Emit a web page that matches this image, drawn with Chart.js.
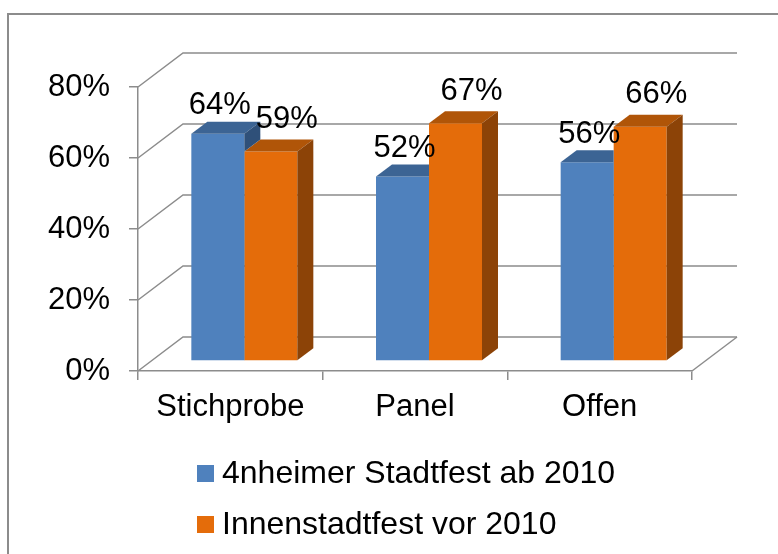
<!DOCTYPE html>
<html>
<head>
<meta charset="utf-8">
<script src="https://cdn.jsdelivr.net/npm/chart.js@4.4.1/dist/chart.umd.min.js"></script>
<style>
  html, body { margin: 0; padding: 0; background: #ffffff; }
  #wrap { width: 778px; height: 554px; position: relative; }
</style>
</head>
<body>
<div id="wrap"><canvas id="c" width="778" height="554"></canvas></div>
<script>
// ---- data ----
const categories = ["Stichprobe", "Panel", "Offen"];
const seriesNames = ["4nheimer Stadtfest ab 2010", "Innenstadtfest vor 2010"];
const series2010plus = [0.64, 0.52, 0.56];
const seriesBefore2010 = [0.59, 0.67, 0.66];
const yTicks = [0, 0.2, 0.4, 0.6, 0.8];

// ---- styles ----
const FONT = '"Liberation Sans", Arial, sans-serif';
const FS = 31;
const LEGEND_FS = 32;
const FRONT = ["#4F81BD", "#E46C0A"];
const TOP = ["#3C6494", "#B05508"];
const SIDE = ["#2F5079", "#8C4307"];
const LINE = "#8C8C8C";
const BAR_OFF = { x: 14, y: -10 };   // bar front plane relative to axis plane
const BAR_DEPTH = { x: 16, y: -12 }; // depth of a bar
const WALL = { x: 45, y: -34 };      // back wall relative to axis plane
const LABEL_OFF = [{ x: 2, y: -28 }, { x: 16, y: -32 }];

function silhouette(ctx, b) {
  const l = b.x - b.width / 2, r = b.x + b.width / 2;
  ctx.moveTo(l, b.base);
  ctx.lineTo(l, b.y);
  ctx.lineTo(l + BAR_DEPTH.x, b.y + BAR_DEPTH.y);
  ctx.lineTo(r + BAR_DEPTH.x, b.y + BAR_DEPTH.y);
  ctx.lineTo(r + BAR_DEPTH.x, b.base + BAR_DEPTH.y);
  ctx.lineTo(r, b.base);
  ctx.closePath();
}

const threeD = {
  id: 'threeD',
  beforeDatasetsDraw(chart) {
    const ctx = chart.ctx, a = chart.chartArea, ys = chart.scales.y;
    ctx.save();
    ctx.strokeStyle = LINE;
    ctx.lineWidth = 1.5;
    yTicks.forEach(v => {
      const py = ys.getPixelForValue(v);
      ctx.beginPath();
      ctx.moveTo(a.left, py);
      ctx.lineTo(a.left + WALL.x, py + WALL.y);
      ctx.lineTo(a.right + WALL.x, py + WALL.y);
      ctx.stroke();
    });
    ctx.beginPath();
    ctx.moveTo(a.right, a.bottom);
    ctx.lineTo(a.right + WALL.x, a.bottom + WALL.y);
    ctx.stroke();
    ctx.restore();
  },
  beforeDatasetDraw(chart) {
    chart.ctx.save();
    chart.ctx.translate(BAR_OFF.x, BAR_OFF.y);
  },
  afterDatasetDraw(chart, args) {
    const ctx = chart.ctx, i = args.index;
    // faces of a series must stay hidden behind the bars of the series to its right
    const n = chart.data.datasets.length;
    ctx.save();
    if (i < n - 1) {
      ctx.beginPath();
      ctx.rect(-100, -100, chart.width + 200, chart.height + 200);
      for (let k = i + 1; k < n; k++) {
        chart.getDatasetMeta(k).data.forEach(b => silhouette(ctx, b));
      }
      ctx.clip('evenodd');
    }
    args.meta.data.forEach(b => {
      const l = b.x - b.width / 2, r = b.x + b.width / 2;
      ctx.fillStyle = TOP[i];
      ctx.beginPath();
      ctx.moveTo(l, b.y); ctx.lineTo(r, b.y);
      ctx.lineTo(r + BAR_DEPTH.x, b.y + BAR_DEPTH.y);
      ctx.lineTo(l + BAR_DEPTH.x, b.y + BAR_DEPTH.y);
      ctx.closePath(); ctx.fill();
      ctx.fillStyle = SIDE[i];
      ctx.beginPath();
      ctx.moveTo(r, b.y);
      ctx.lineTo(r + BAR_DEPTH.x, b.y + BAR_DEPTH.y);
      ctx.lineTo(r + BAR_DEPTH.x, b.base + BAR_DEPTH.y);
      ctx.lineTo(r, b.base);
      ctx.closePath(); ctx.fill();
    });
    ctx.restore();
    ctx.restore();
  },
  afterDatasetsDraw(chart) {
    const ctx = chart.ctx;
    ctx.save();
    ctx.font = FS + 'px ' + FONT;
    ctx.fillStyle = '#000';
    ctx.textAlign = 'center';
    ctx.textBaseline = 'middle';
    chart.data.datasets.forEach((ds, i) => {
      chart.getDatasetMeta(i).data.forEach((b, j) => {
        const txt = Math.round(ds.data[j] * 100) + '%';
        ctx.fillText(txt, b.x + BAR_OFF.x + LABEL_OFF[i].x, b.y + BAR_OFF.y + LABEL_OFF[i].y);
      });
    });
    ctx.restore();
  },
  afterDraw(chart) {
    const ctx = chart.ctx;
    ctx.save();
    ctx.font = LEGEND_FS + 'px ' + FONT;
    ctx.textAlign = 'left';
    ctx.textBaseline = 'middle';
    chart.data.datasets.forEach((ds, i) => {
      const cy = 474 + i * 51;
      ctx.fillStyle = ds.backgroundColor;
      ctx.fillRect(197, cy - 9, 17, 17);
      ctx.fillStyle = '#000';
      ctx.fillText(ds.label, 222, cy);
    });
    ctx.strokeStyle = '#8C8C8C';
    ctx.lineWidth = 2;
    ctx.strokeRect(8, 14, 900, 700);
    ctx.restore();
  }
};

new Chart(document.getElementById('c'), {
  type: 'bar',
  data: {
    labels: categories,
    datasets: [
      { label: seriesNames[0], data: series2010plus, backgroundColor: FRONT[0], borderWidth: 0 },
      { label: seriesNames[1], data: seriesBefore2010, backgroundColor: FRONT[1], borderWidth: 0 }
    ]
  },
  options: {
    responsive: false,
    animation: false,
    devicePixelRatio: 1,
    layout: { padding: { left: 8, top: 87, right: 86, bottom: 123 } },
    datasets: { bar: { categoryPercentage: 0.574, barPercentage: 1, clip: false } },
    plugins: { legend: { display: false }, tooltip: { enabled: false } },
    scales: {
      x: {
        grid: { drawOnChartArea: false, drawTicks: true, tickLength: 9, color: LINE, lineWidth: 1.5, offset: true },
        border: { color: LINE, width: 1.5 },
        ticks: { font: { family: FONT, size: FS }, color: '#000', padding: 9, maxRotation: 0 },
        afterFit: s => { s.height = 60; }
      },
      y: {
        min: 0, max: 0.8,
        afterBuildTicks: s => { s.ticks = yTicks.map(v => ({ value: v })); },
        grid: { drawOnChartArea: false, drawTicks: true, tickLength: 9, color: LINE, lineWidth: 1.5 },
        border: { color: LINE, width: 1.5 },
        ticks: { font: { family: FONT, size: FS }, color: '#000', padding: 19,
                 callback: v => Math.round(v * 100) + '%' },
        afterFit: s => { s.width = 130; }
      }
    }
  },
  plugins: [threeD]
});
</script>
</body>
</html>
